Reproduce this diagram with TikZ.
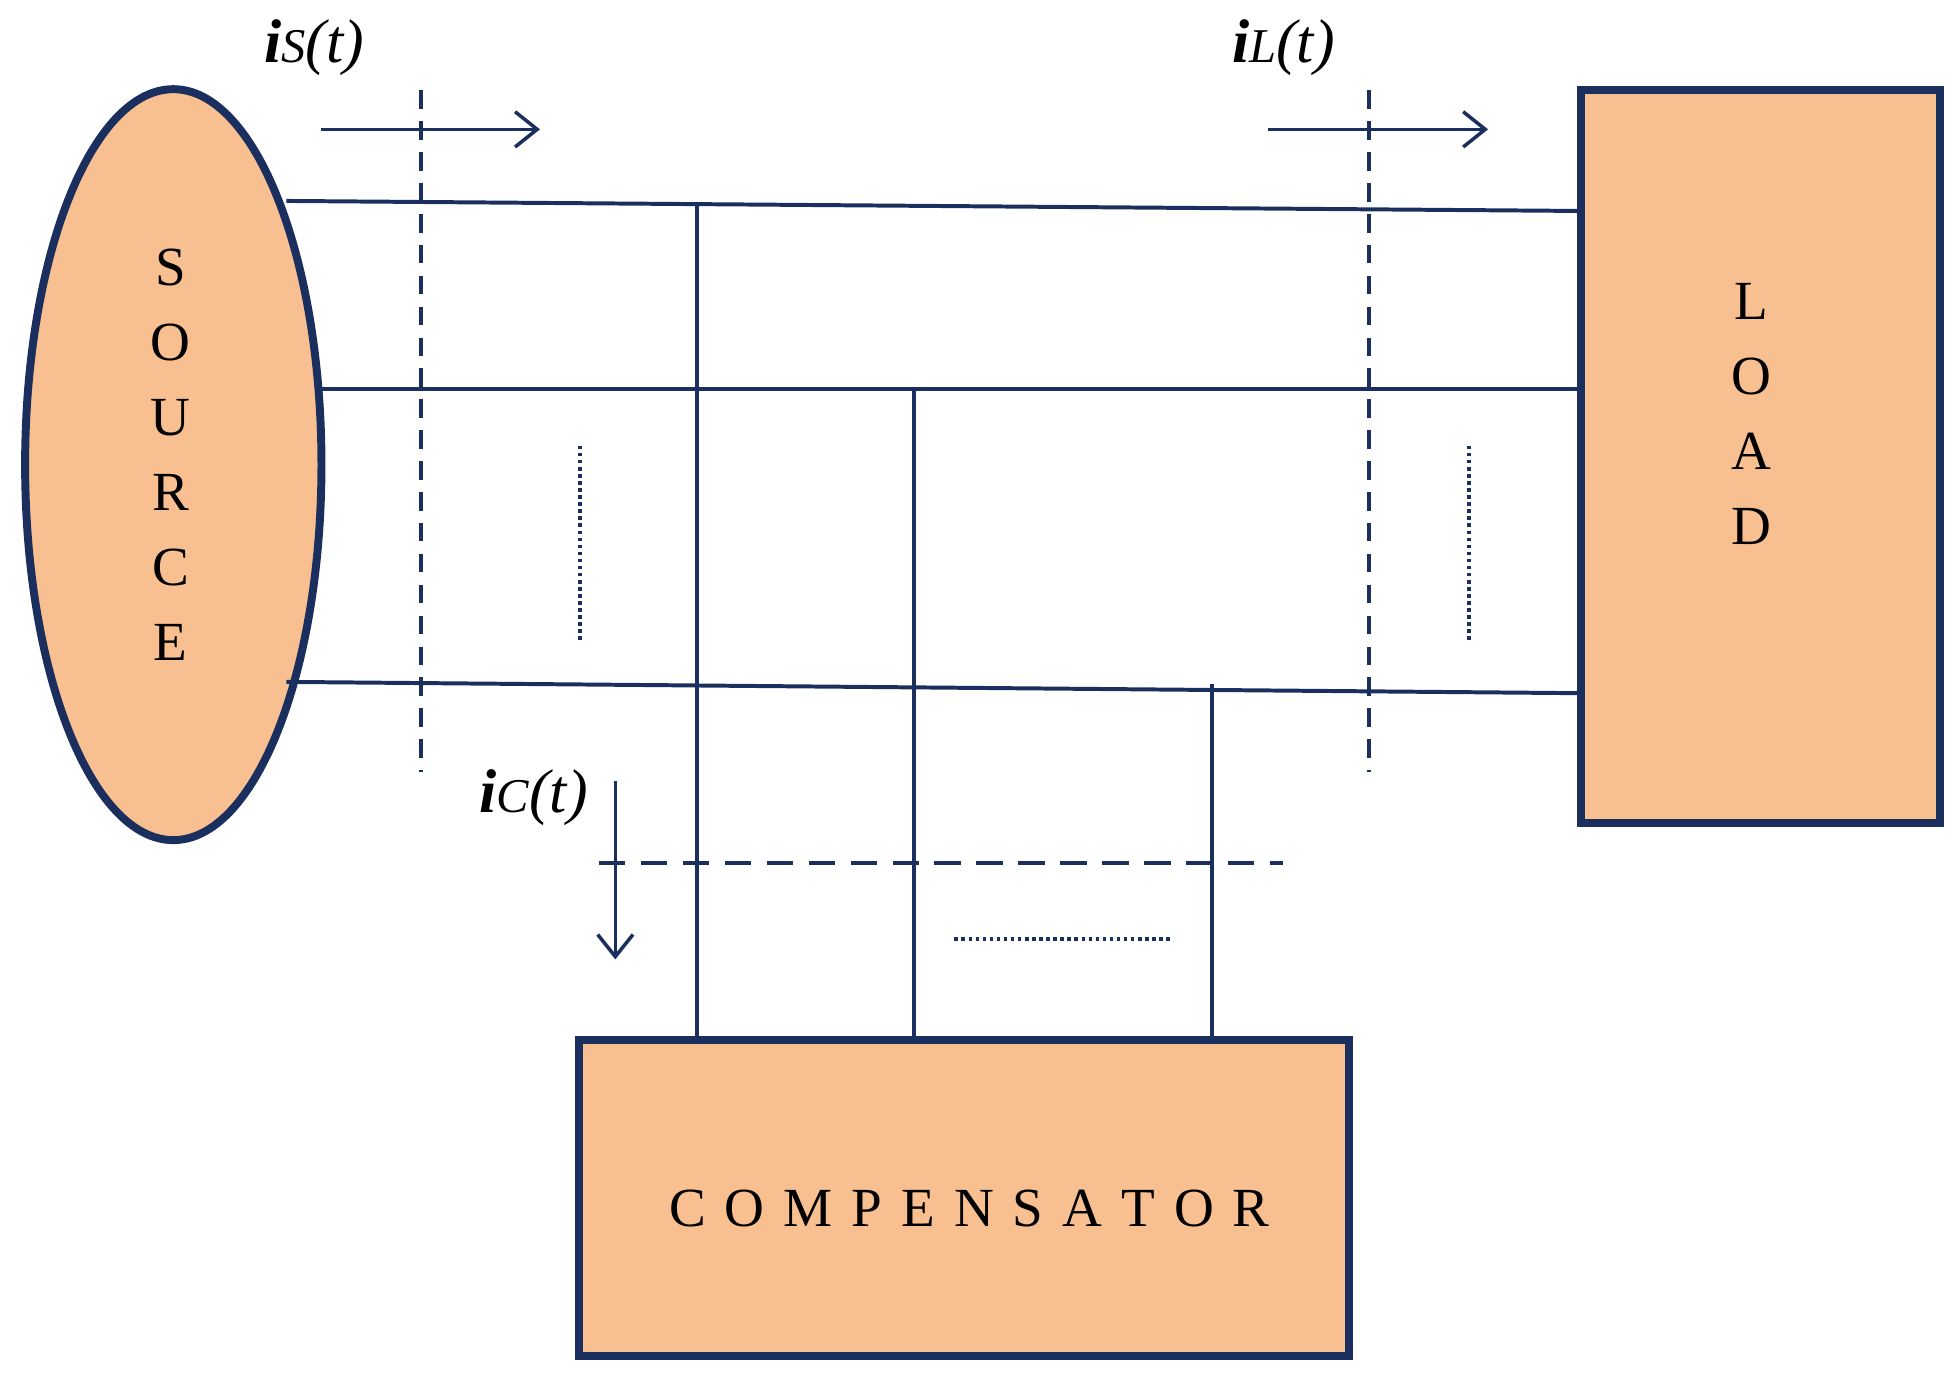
\documentclass[tikz,border=0pt]{standalone}
\usepackage{fontspec}
\setmainfont{Liberation Serif}
\usetikzlibrary{shapes.geometric,arrows.meta}
\definecolor{navy}{HTML}{1B2F5E}
\definecolor{peach}{HTML}{F8BF90}
\begin{document}
\begin{tikzpicture}[x=0.1mm,y=-0.1mm,
  blk/.style={draw=navy,fill=peach,line width=1.8pt},
  wire/.style={draw=navy,line width=0.9pt},
  dsh/.style={draw=navy,line width=0.9pt,dash pattern=on 4.2pt off 2.8pt},
  dshh/.style={draw=navy,line width=0.9pt,dash pattern=on 6pt off 3.5pt},
  dot/.style={draw=navy,line width=0.9pt,dash pattern=on 0.8pt off 0.8pt},
  arr/.style={draw=navy,line width=0.8pt,-{Straight Barb[length=5pt,width=8pt]}},
  lbl/.style={font=\fontsize{14}{16}\selectfont\itshape},
  big/.style={font=\fontsize{12.5}{17}\selectfont}]
\useasboundingbox (0,0) rectangle (1560,1095);
\node[blk,ellipse,minimum width=23.6mm,minimum height=59.8mm,inner sep=0] (src) at (138,370) {};
\node[big,align=center] (srct) at (136,362) {S\\O\\U\\R\\C\\E};
\node[blk,minimum width=28.6mm,minimum height=58.3mm,inner sep=0] (load) at (1402,363.5) {};
\node[big,align=center] (loadt) at (1395,330) {L\\O\\A\\D};
\node[blk,minimum width=61.3mm,minimum height=25.2mm,inner sep=0] (comp) at (767.5,954) {};
\node[big] (compt) at (772,962) {C\hspace{4.3pt}O\hspace{4.3pt}M\hspace{4.3pt}P\hspace{4.3pt}E\hspace{4.3pt}N\hspace{4.3pt}S\hspace{4.3pt}A\hspace{4.3pt}T\hspace{4.3pt}O\hspace{4.3pt}R};
% lines
\coordinate (a1) at (228,160); \coordinate (b1) at (1260,168);
\coordinate (a2) at (256,310); \coordinate (b2) at (1260,310);
\coordinate (a3) at (228,543); \coordinate (b3) at (1260,552);
\draw[wire] (a1) -- (b1);
\draw[wire] (a2) -- (b2);
\draw[wire] (a3) -- (b3);
\coordinate (t1) at (555,164); \coordinate (t2) at (728,310); \coordinate (t3) at (965,545);
\draw[wire] (t1) -- (t1 |- comp.north);
\draw[wire] (t2) -- (t2 |- comp.north);
\draw[wire] (t3) -- (t3 |- comp.north);
% dashed
\coordinate (d1) at (335,72); \coordinate (d1e) at (335,615);
\coordinate (d2) at (1090,72); \coordinate (d2e) at (1090,615);
\coordinate (d3) at (477,687); \coordinate (d3e) at (1022,687);
\draw[dsh] (d1) -- (d1e);
\draw[dsh] (d2) -- (d2e);
\draw[dshh] (d3) -- (d3e);
% dotted
\coordinate (p1) at (462,355); \coordinate (p1e) at (462,512);
\coordinate (p2) at (1170,355); \coordinate (p2e) at (1170,512);
\coordinate (p3) at (760,748); \coordinate (p3e) at (933,748);
\draw[dot] (p1) -- (p1e);
\draw[dot] (p2) -- (p2e);
\draw[dot] (p3) -- (p3e);
% arrows
\coordinate (r1) at (256,103); \coordinate (r1e) at (430,103);
\coordinate (r2) at (1010,103); \coordinate (r2e) at (1185,103);
\coordinate (r3) at (490,622); \coordinate (r3e) at (490,764);
\draw[arr] (r1) -- (r1e);
\draw[arr] (r2) -- (r2e);
\draw[arr] (r3) -- (r3e);
\node[lbl] (is) at (250,38) {\textbf{i}{\fontsize{11}{13}\selectfont S}(t)};
\node[lbl] (il) at (1022,38) {\textbf{i}{\fontsize{11}{13}\selectfont L}(t)};
\node[lbl] (ic) at (425,635) {\textbf{i}{\fontsize{11}{13}\selectfont C}(t)};
\end{tikzpicture}
\end{document}
